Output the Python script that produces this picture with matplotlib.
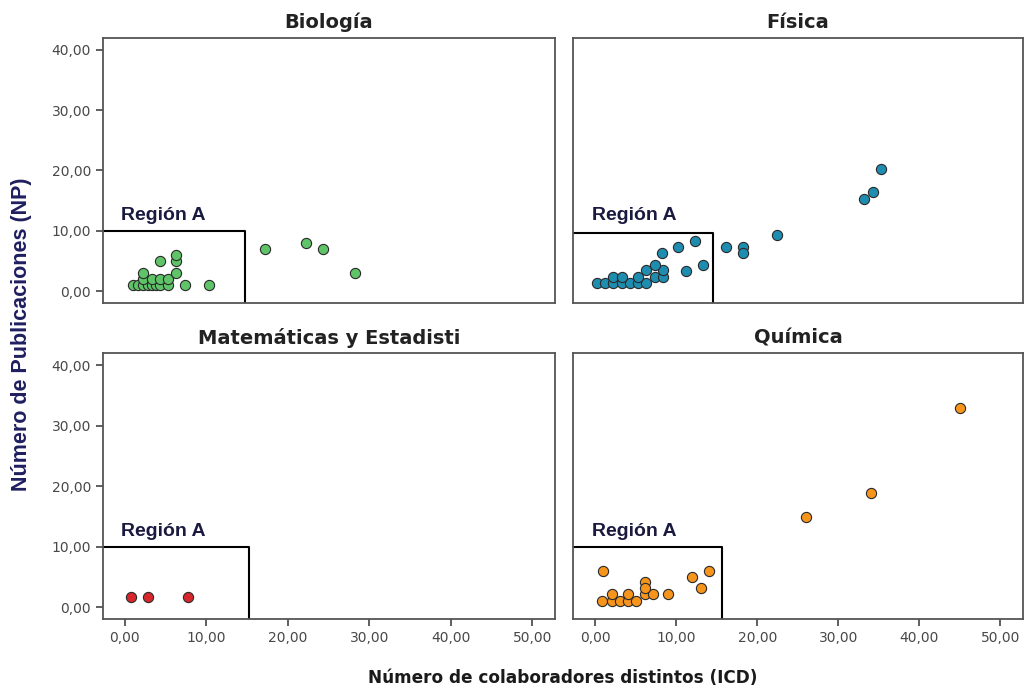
import matplotlib
matplotlib.use('Agg')
import matplotlib.pyplot as plt
from matplotlib.ticker import FuncFormatter

# ICD (x) y NP (y) por area
bio_icd = [1.0, 1.6, 2.3, 2.8, 3.3, 3.8, 4.3, 5.3, 7.4, 10.3,
           2.3, 3.3, 4.3, 5.3, 2.3, 6.3, 4.3, 6.3, 6.3,
           17.2, 22.3, 24.3, 28.3]
bio_np = [1, 1, 1, 1, 1, 1, 1, 1, 1, 1,
          2, 2, 2, 2, 3, 3, 5, 5, 6,
          7, 8, 7, 3]

fis_icd = [0.2, 1.2, 2.2, 3.3, 4.3, 5.3, 6.3,
           2.2, 3.3, 5.3, 7.4, 8.4, 6.3, 8.4,
           7.4, 13.3, 11.2, 8.3, 10.2, 12.3, 16.2, 18.2, 18.2, 22.4,
           33.2, 34.3, 35.3]
fis_np = [1.3, 1.3, 1.3, 1.3, 1.3, 1.3, 1.3,
          2.4, 2.4, 2.4, 2.4, 2.4, 3.5, 3.5,
          4.4, 4.3, 3.4, 6.4, 7.3, 8.4, 7.3, 7.3, 6.3, 9.3,
          15.3, 16.4, 20.3]

mat_icd = [0.8, 2.9, 7.8]
mat_np = [1.7, 1.7, 1.7]

qui_icd = [1.0, 0.9, 2.05, 3.1, 4.1, 5.1,
           2.05, 4.1, 6.15, 7.1, 9.0, 6.15, 6.15,
           12.0, 14.06, 13.1, 26.0, 34.0, 45.0]
qui_np = [6.0, 1.1, 1.1, 1.1, 1.1, 1.1,
          2.1, 2.1, 2.1, 2.1, 2.1, 4.1, 3.1,
          5.0, 6.0, 3.1, 14.9, 18.9, 32.9]

titles = ['Biología', 'Física', 'Matemáticas y Estadisti', 'Química']
colors = ['#5fc468', '#1f8db0', '#d8262d', '#f6941c']
# limite de la Region A (ICD, NP)
region_x = [14.7, 14.5, 15.2, 15.6]
region_y = [10.0, 9.7, 10.0, 10.0]

xs = [bio_icd, fis_icd, mat_icd, qui_icd]
ys = [bio_np, fis_np, mat_np, qui_np]

fmt = FuncFormatter(lambda v, p: f"{v:.2f}".replace('.', ','))

fig = plt.figure(figsize=(10.25, 6.9), dpi=100)
boxes = [[0.1002, 0.5604, 0.4413, 0.3850],
         [0.5593, 0.5604, 0.4387, 0.3850],
         [0.1002, 0.1025, 0.4413, 0.3855],
         [0.5593, 0.1025, 0.4387, 0.3855]]

for i in range(4):
    ax = fig.add_axes(boxes[i])
    ax.scatter(xs[i], ys[i], s=54, c=colors[i], edgecolors='#2a2a2a',
               linewidths=0.8, zorder=3)
    ax.plot([-5, region_x[i], region_x[i]], [region_y[i], region_y[i], -5],
            color='black', lw=1.5, zorder=2)
    ax.text(-0.4, 12.6, 'Región A', family='Liberation Sans', fontsize=14,
            fontweight='bold', color='#1a1a40', va='center', ha='left')
    ax.set_xlim(-2.7, 52.8)
    ax.set_ylim(-2.0, 42.0)
    ax.set_xticks(range(0, 51, 10))
    ax.set_yticks(range(0, 41, 10))
    ax.xaxis.set_major_formatter(fmt)
    ax.yaxis.set_major_formatter(fmt)
    ax.set_title(titles[i], fontsize=14, fontweight='bold', color='#222222', pad=7)
    for sp in ax.spines.values():
        sp.set_color('#555555')
        sp.set_linewidth(1.3)
    ax.tick_params(direction='out', length=5, width=1.2, color='#444444',
                   labelsize=10, labelcolor='#484848')
    if i % 2 == 1:
        ax.tick_params(axis='y', left=False, labelleft=False)
    if i < 2:
        ax.tick_params(axis='x', bottom=False, labelbottom=False)

fig.text(0.0205, 0.515, 'Número de Publicaciones (NP)', rotation=90,
         family='Liberation Sans', fontsize=15.5, fontweight='bold',
         color='#1f1f60', ha='center', va='center')
fig.text(0.549, 0.018, 'Número de colaboradores distintos (ICD)',
         fontsize=12.2, fontweight='bold', color='#1a1a1a', ha='center', va='center')

fig.savefig('out.png', dpi=100)
